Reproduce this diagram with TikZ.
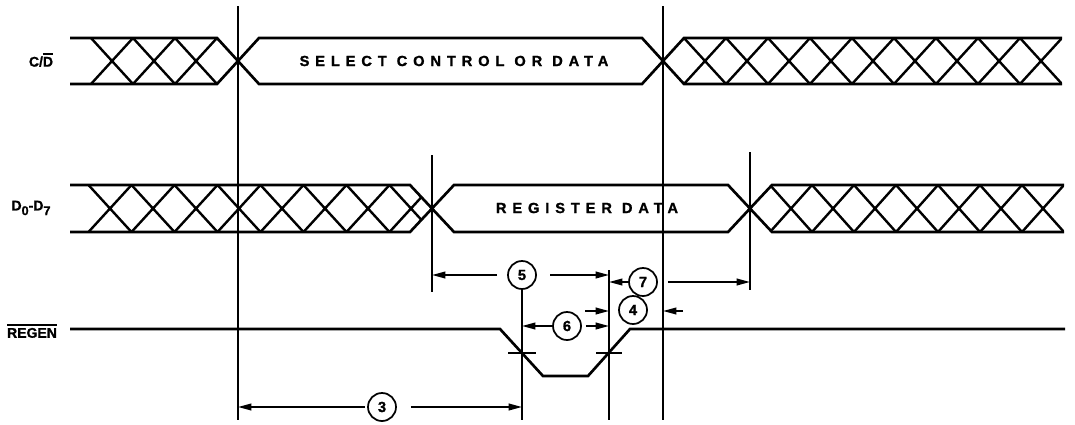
\documentclass[tikz,border=0pt]{standalone}
\usepackage{fontspec}
\newfontfamily\bsans{Liberation Sans}[BoldFeatures={FakeBold=1.2}]
\newfontfamily\bsansls{Liberation Sans}[LetterSpace=40,BoldFeatures={FakeBold=1.2}]
\usetikzlibrary{arrows.meta}
\newcommand\ovbar[1]{\vbox{\hrule height 1.1pt\kern 1.8pt\hbox{#1}}}
\tikzset{
  sig/.style={line width=2pt},
  hat/.style={line width=1.8pt},
  refl/.style={line width=1.3pt},
  dimarr/.style={line width=1.3pt,-{Triangle[length=10pt,width=5pt]}},
  num/.style={circle,draw,line width=1.3pt,minimum size=21pt,inner sep=0pt,
    font=\bsans\bfseries\fontsize{11}{13}\selectfont},
  lbl/.style={inner sep=0pt,font=\bsans\bfseries\fontsize{10.5}{12}\selectfont},
  wide/.style={inner sep=0pt,font=\bsansls\bfseries\fontsize{11}{13}\selectfont}
}
\begin{document}
\begin{tikzpicture}[x=0.75pt,y=-0.75pt]
\useasboundingbox (0,0) rectangle (1075,425);
% labels
\node[lbl] (lcd) at (41,60) {C/\ovbar{D}};
\node[lbl] (ld) at (31,208) {D\raisebox{-3.5pt}{\fontsize{9.5}{11}\selectfont 0}-D\raisebox{-3.5pt}{\fontsize{9.5}{11}\selectfont 7}};
\node[lbl] (lr) at (32,331) {\ovbar{REGEN}};
% C/D bus
\draw[sig] (70,38) -- (217,38) -- (259,84) -- (642,84) -- (684,38) -- (1062,38);
\draw[sig] (70,84) -- (217,84) -- (259,38) -- (642,38) -- (684,84) -- (1062,84);
\begin{scope}
\clip (70,38) -- (217,38) -- (238,61) -- (217,84) -- (70,84) -- cycle;
\foreach \c in {112,154,196} {\draw[hat] (\c-21,38) -- (\c+21,84) (\c-21,84) -- (\c+21,38);}
\end{scope}
\begin{scope}
\clip (663,61) -- (684,38) -- (1062,38) -- (1062,84) -- (684,84) -- cycle;
\foreach \c in {705,747,...,1041} {\draw[hat] (\c-21,38) -- (\c+21,84) (\c-21,84) -- (\c+21,38);}
\end{scope}
\node[wide] (tsel) at (454,61) {SELECT CONTROL OR DATA};
% D bus
\draw[sig] (70,185) -- (410,185) -- (454,232) -- (728,232) -- (772,185) -- (1064,185);
\draw[sig] (70,232) -- (410,232) -- (454,185) -- (728,185) -- (772,232) -- (1064,232);
\begin{scope}
\clip (70,185) -- (410,185) -- (432,208.5) -- (410,232) -- (70,232) -- cycle;
\foreach \c in {110,153,...,411} {\draw[hat] (\c-21.5,185) -- (\c+21.5,232) (\c-21.5,232) -- (\c+21.5,185);}
\end{scope}
\begin{scope}
\clip (750,208.5) -- (772,185) -- (1064,185) -- (1064,232) -- (772,232) -- cycle;
\foreach \c in {791,833,...,1043} {\draw[hat] (\c-21,185) -- (\c+21,232) (\c-21,232) -- (\c+21,185);}
\end{scope}
\node[wide] (treg) at (587,208) {REGISTER DATA};
% REGEN
\draw[sig] (70,329) -- (500,329) -- (543,376) -- (588,376) -- (630,329) -- (1065,329);
\draw[sig] (508,353) -- (536,353);
\draw[sig] (596,353) -- (622,353);
% reference lines
\coordinate (v1t) at (238,6);   \coordinate (v1b) at (238,420);
\coordinate (v2t) at (663,6);   \coordinate (v2b) at (663,420);
\coordinate (v3t) at (432,155); \coordinate (v3b) at (432,292);
\coordinate (v4t) at (750,152); \coordinate (v4b) at (750,290);
\coordinate (v5t) at (522,289); \coordinate (v5b) at (522,420);
\coordinate (v6t) at (609,270); \coordinate (v6b) at (609,420);
\foreach \v in {1,...,6} {\draw[refl] (v\v t) -- (v\v b);}
% numbered labels
\node[num] (n5) at (522,275) {5};
\node[num] (n7) at (643,282) {7};
\node[num] (n4) at (633,310) {4};
\node[num] (n6) at (567,326) {6};
\node[num] (n3) at (382,407) {3};
% dimension arrows
\draw[dimarr,shorten <=7.5pt] (n5) -- (n5 -| v3t);
\draw[dimarr,shorten <=10pt] (n5) -- (n5 -| v6t);
\draw[dimarr] (n7) -- (n7 -| v6t);
\draw[dimarr,shorten <=7.5pt] (n7) -- (n7 -| v4t);
\coordinate (a4l) at (585,311);
\coordinate (a4r) at (683,311);
\draw[dimarr] (a4l) -- (a4l -| v6t);
\draw[dimarr] (a4r) -- (a4r -| v2t);
\draw[dimarr] (n6) -- (n6 -| v5t);
\draw[dimarr,shorten <=3pt] (n6) -- (n6 -| v6t);
\draw[dimarr,shorten <=1.5pt] (n3) -- (n3 -| v1t);
\draw[dimarr,shorten <=10.5pt] (n3) -- (n3 -| v5t);
\end{tikzpicture}
\end{document}
